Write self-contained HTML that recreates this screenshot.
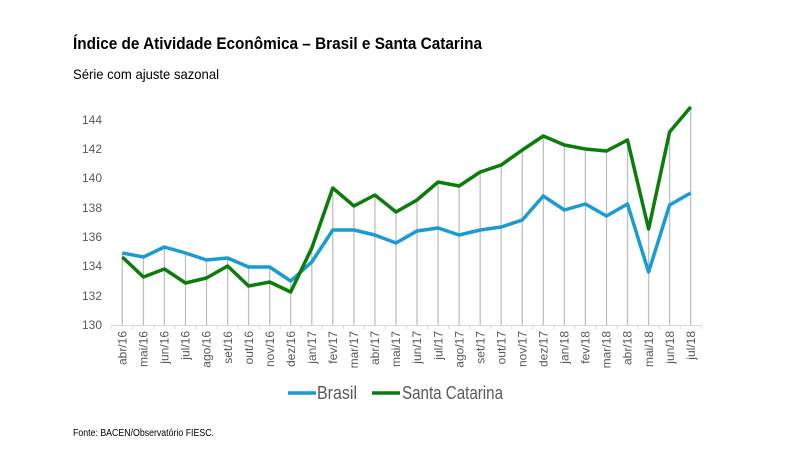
<!DOCTYPE html>
<html><head><meta charset="utf-8"><style>
html,body{margin:0;padding:0;background:#fff;}
svg{display:block;font-family:"Liberation Sans Narrow","Liberation Sans",sans-serif;}
</style></head><body>
<svg width="787" height="461" viewBox="0 0 787 461" xmlns="http://www.w3.org/2000/svg">
<text x="73" y="49" font-size="17" font-weight="bold" fill="#000" textLength="409" lengthAdjust="spacingAndGlyphs">Índice de Atividade Econômica – Brasil e Santa Catarina</text>
<text x="73" y="79" font-size="14" fill="#000" textLength="146" lengthAdjust="spacingAndGlyphs">Série com ajuste sazonal</text>
<g font-size="12" fill="#595959" text-anchor="end">
<text x="102" y="124">144</text><text x="102" y="153">142</text><text x="102" y="182">140</text><text x="102" y="212">138</text><text x="102" y="241">136</text><text x="102" y="270">134</text><text x="102" y="300">132</text><text x="102" y="329">130</text>
</g>
<g stroke="#bfbfbf" stroke-width="1.3">
<line x1="122.3" y1="253" x2="122.3" y2="325"/><line x1="143.4" y1="257" x2="143.4" y2="325"/><line x1="164.4" y1="247" x2="164.4" y2="325"/><line x1="185.5" y1="253" x2="185.5" y2="325"/><line x1="206.5" y1="260" x2="206.5" y2="325"/><line x1="227.6" y1="258" x2="227.6" y2="325"/><line x1="248.6" y1="267" x2="248.6" y2="325"/><line x1="269.7" y1="267" x2="269.7" y2="325"/><line x1="290.7" y1="281" x2="290.7" y2="325"/><line x1="311.8" y1="248" x2="311.8" y2="325"/><line x1="332.8" y1="188" x2="332.8" y2="325"/><line x1="353.9" y1="206" x2="353.9" y2="325"/><line x1="374.9" y1="195" x2="374.9" y2="325"/><line x1="396.0" y1="212" x2="396.0" y2="325"/><line x1="417.0" y1="200" x2="417.0" y2="325"/><line x1="438.1" y1="182" x2="438.1" y2="325"/><line x1="459.1" y1="186" x2="459.1" y2="325"/><line x1="480.2" y1="172" x2="480.2" y2="325"/><line x1="501.2" y1="165" x2="501.2" y2="325"/><line x1="522.3" y1="150" x2="522.3" y2="325"/><line x1="543.3" y1="136" x2="543.3" y2="325"/><line x1="564.4" y1="145" x2="564.4" y2="325"/><line x1="585.4" y1="149" x2="585.4" y2="325"/><line x1="606.5" y1="151" x2="606.5" y2="325"/><line x1="627.5" y1="140" x2="627.5" y2="325"/><line x1="648.6" y1="229" x2="648.6" y2="325"/><line x1="669.6" y1="132" x2="669.6" y2="325"/><line x1="690.7" y1="107" x2="690.7" y2="325"/>
</g>
<g stroke="#d9d9d9" stroke-width="1">
<line x1="111.8" y1="325.5" x2="701.2" y2="325.5"/>
<path d="M111.8 325v4M132.9 325v4M153.9 325v4M175 325v4M196 325v4M217.1 325v4M238.1 325v4M259.2 325v4M280.2 325v4M301.3 325v4M322.3 325v4M343.4 325v4M364.4 325v4M385.5 325v4M406.5 325v4M427.6 325v4M448.6 325v4M469.7 325v4M490.7 325v4M511.8 325v4M532.8 325v4M553.9 325v4M574.9 325v4M596 325v4M617 325v4M638.1 325v4M659.1 325v4M680.2 325v4M701.2 325v4"/>
</g>
<polyline fill="none" stroke="#1a9bd1" stroke-width="3.5" stroke-linejoin="round" points="122.3,253 143.4,257 164.4,247 185.5,253 206.5,260 227.6,258 248.6,267 269.7,267 290.7,281 311.8,262 332.8,230 353.9,230 374.9,235 396.0,243 417.0,231 438.1,228 459.1,235 480.2,230 501.2,227 522.3,220 543.3,196 564.4,210 585.4,204 606.5,216 627.5,204 648.6,272 669.6,205 690.7,193"/>
<polyline fill="none" stroke="#0b7d0b" stroke-width="3.5" stroke-linejoin="round" points="122.3,257 143.4,277 164.4,269 185.5,283 206.5,278 227.6,266 248.6,286 269.7,282 290.7,292 311.8,248 332.8,188 353.9,206 374.9,195 396.0,212 417.0,200 438.1,182 459.1,186 480.2,172 501.2,165 522.3,150 543.3,136 564.4,145 585.4,149 606.5,151 627.5,140 648.6,229 669.6,132 690.7,107"/>
<g font-size="12" fill="#595959" text-anchor="end">
<text transform="translate(126.5,331) rotate(-90)">abr/16</text><text transform="translate(147.6,331) rotate(-90)">mai/16</text><text transform="translate(168.6,331) rotate(-90)">jun/16</text><text transform="translate(189.7,331) rotate(-90)">jul/16</text><text transform="translate(210.7,331) rotate(-90)">ago/16</text><text transform="translate(231.8,331) rotate(-90)">set/16</text><text transform="translate(252.8,331) rotate(-90)">out/16</text><text transform="translate(273.9,331) rotate(-90)">nov/16</text><text transform="translate(294.9,331) rotate(-90)">dez/16</text><text transform="translate(316,331) rotate(-90)">jan/17</text><text transform="translate(337,331) rotate(-90)">fev/17</text><text transform="translate(358.1,331) rotate(-90)">mar/17</text><text transform="translate(379.1,331) rotate(-90)">abr/17</text><text transform="translate(400.2,331) rotate(-90)">mai/17</text><text transform="translate(421.2,331) rotate(-90)">jun/17</text><text transform="translate(442.3,331) rotate(-90)">jul/17</text><text transform="translate(463.3,331) rotate(-90)">ago/17</text><text transform="translate(484.4,331) rotate(-90)">set/17</text><text transform="translate(505.4,331) rotate(-90)">out/17</text><text transform="translate(526.5,331) rotate(-90)">nov/17</text><text transform="translate(547.5,331) rotate(-90)">dez/17</text><text transform="translate(568.6,331) rotate(-90)">jan/18</text><text transform="translate(589.6,331) rotate(-90)">fev/18</text><text transform="translate(610.7,331) rotate(-90)">mar/18</text><text transform="translate(631.7,331) rotate(-90)">abr/18</text><text transform="translate(652.8,331) rotate(-90)">mai/18</text><text transform="translate(673.8,331) rotate(-90)">jun/18</text><text transform="translate(694.9,331) rotate(-90)">jul/18</text>
</g>
<line x1="288" y1="393" x2="316" y2="393" stroke="#1a9bd1" stroke-width="3.5"/>
<text x="317" y="399" font-size="18" fill="#595959" textLength="40" lengthAdjust="spacingAndGlyphs">Brasil</text>
<line x1="372" y1="393" x2="400" y2="393" stroke="#0b7d0b" stroke-width="3.5"/>
<text x="402" y="399" font-size="18" fill="#595959" textLength="101" lengthAdjust="spacingAndGlyphs">Santa Catarina</text>
<text x="73" y="436" font-size="10" fill="#000" textLength="141" lengthAdjust="spacingAndGlyphs">Fonte: BACEN/Observatório FIESC.</text>
</svg>
</body></html>
